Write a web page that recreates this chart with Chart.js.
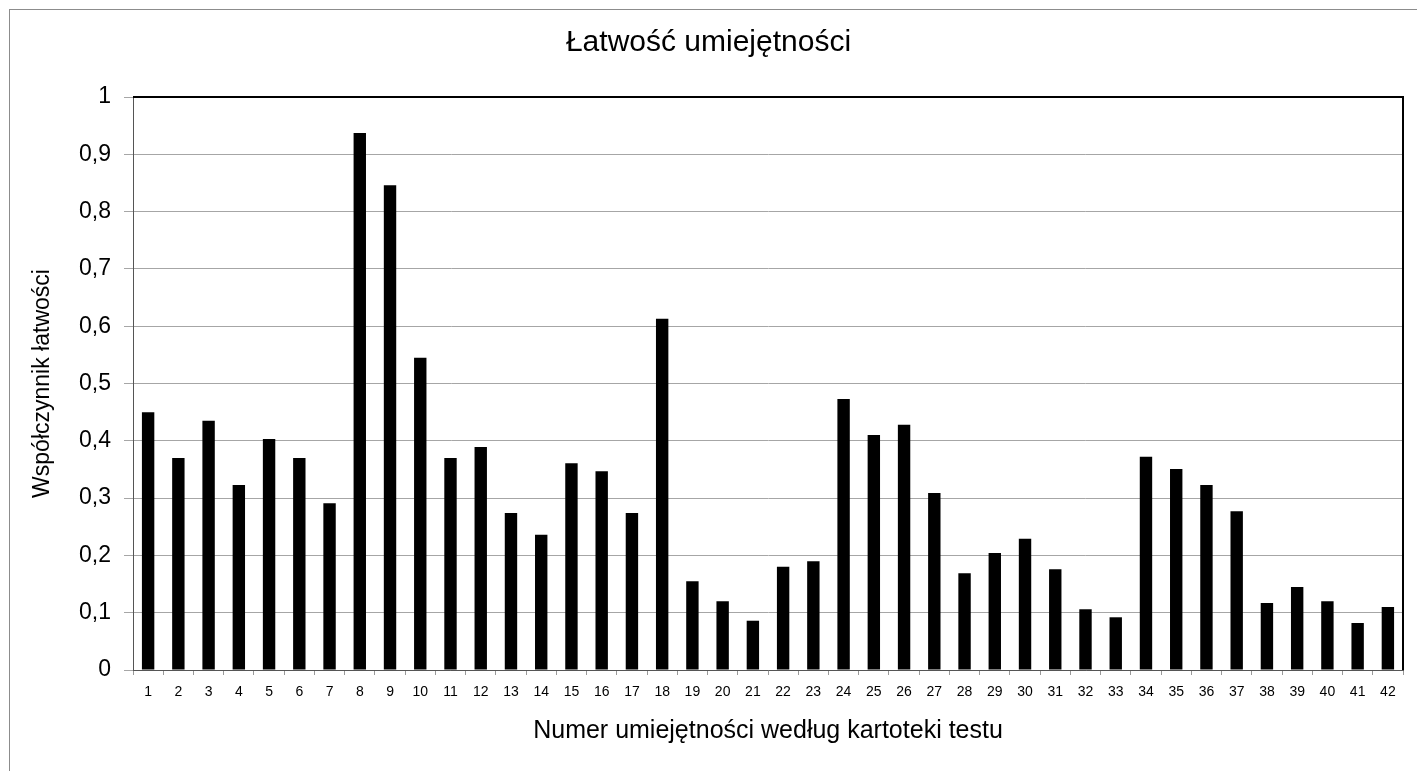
<!DOCTYPE html>
<html>
<head>
<meta charset="utf-8">
<title>Łatwość umiejętności</title>
<script src="https://cdn.jsdelivr.net/npm/chart.js@4"></script>
<style>
  html, body { margin: 0; padding: 0; background: #fff; }
  canvas { display: block; }
</style>
</head>
<body>
<canvas id="chart" width="1417" height="771"></canvas>
<script>
// numery umiejetnosci 1..42
var skills = ['1','2','3','4','5','6','7','8','9','10','11','12','13','14','15','16','17','18','19','20','21',
    '22','23','24','25','26','27','28','29','30','31','32','33','34','35','36','37','38','39','40','41','42'];

// wspolczynnik latwosci
var easiness = [0.45, 0.37, 0.435, 0.323, 0.403, 0.37, 0.291, 0.937, 0.846, 0.545, 0.37, 0.389, 0.274, 0.236,
    0.361, 0.347, 0.274, 0.613, 0.155, 0.12, 0.086, 0.18, 0.19, 0.473, 0.41, 0.428, 0.309, 0.169, 0.204, 0.229,
    0.176, 0.106, 0.092, 0.372, 0.351, 0.323, 0.277, 0.117, 0.145, 0.12, 0.082, 0.11];

var fontFamily = '"Liberation Sans", Arial, sans-serif';

function formatTick(v) {
    if (Math.abs(v - Math.round(v)) < 1e-9) return String(Math.round(v));
    return v.toFixed(1).replace('.', ',');
}

// white background, outer frame, black top/right border of the plot
var framePlugin = {
    id: 'frame',
    beforeDraw: function (chart) {
        var ctx = chart.ctx;
        ctx.save();
        ctx.fillStyle = '#fff';
        ctx.fillRect(0, 0, chart.width, chart.height);
        ctx.strokeStyle = '#8c8c8c';
        ctx.lineWidth = 1;
        ctx.strokeRect(9.5, 9.5, 1500, 1000);
        ctx.restore();
    },
    afterDraw: function (chart) {
        var a = chart.chartArea, ctx = chart.ctx;
        ctx.save();
        ctx.strokeStyle = '#000';
        ctx.lineWidth = 2;
        ctx.beginPath();
        ctx.moveTo(a.left, a.top);
        ctx.lineTo(a.right, a.top);
        ctx.lineTo(a.right, a.bottom);
        ctx.stroke();
        ctx.restore();
    }
};

var ctx = document.getElementById('chart').getContext('2d');
new Chart(ctx, {
    type: 'bar',
    data: {
        labels: skills,
        datasets: [{
            data: easiness,
            backgroundColor: '#000',
            borderWidth: 0,
            barPercentage: 0.41,
            categoryPercentage: 1
        }]
    },
    options: {
        responsive: false,
        animation: false,
        layout: { padding: 0 },
        plugins: {
            legend: { display: false },
            tooltip: { enabled: false },
            title: {
                display: true,
                text: 'Łatwość umiejętności',
                color: '#000',
                font: { family: fontFamily, size: 30, weight: 'normal' },
                padding: { top: 25, bottom: 36 }
            }
        },
        scales: {
            x: {
                grid: {
                    offset: true,
                    drawOnChartArea: false,
                    tickLength: 5,
                    color: '#999'
                },
                border: { color: '#555', width: 1 },
                ticks: {
                    color: '#000',
                    font: { family: fontFamily, size: 14 },
                    maxRotation: 0,
                    autoSkip: false,
                    padding: 9
                },
                title: {
                    display: true,
                    text: 'Numer umiejętności według kartoteki testu',
                    color: '#000',
                    font: { family: fontFamily, size: 25 },
                    padding: { top: 0, bottom: 25 }
                },
                afterFit: function (scale) { scale.height = 101; }
            },
            y: {
                min: 0,
                max: 1,
                grid: { color: '#a6a6a6', tickLength: 9, lineWidth: 1 },
                border: { color: '#555', width: 1 },
                ticks: {
                    stepSize: 0.1,
                    color: '#000',
                    font: { family: fontFamily, size: 23 },
                    padding: 13,
                    callback: formatTick
                },
                title: {
                    display: true,
                    text: 'Współczynnik łatwości',
                    color: '#000',
                    font: { family: fontFamily, size: 23 },
                    padding: { top: 29, bottom: 0 }
                },
                afterFit: function (scale) { scale.width = 133; }
            },
            // empty right axis, only keeps the plot off the right edge
            yRight: {
                position: 'right',
                min: 0,
                max: 1,
                ticks: { display: false },
                grid: { display: false },
                border: { display: false },
                afterFit: function (scale) { scale.width = 14; }
            }
        }
    },
    plugins: [framePlugin]
});
</script>
</body>
</html>
